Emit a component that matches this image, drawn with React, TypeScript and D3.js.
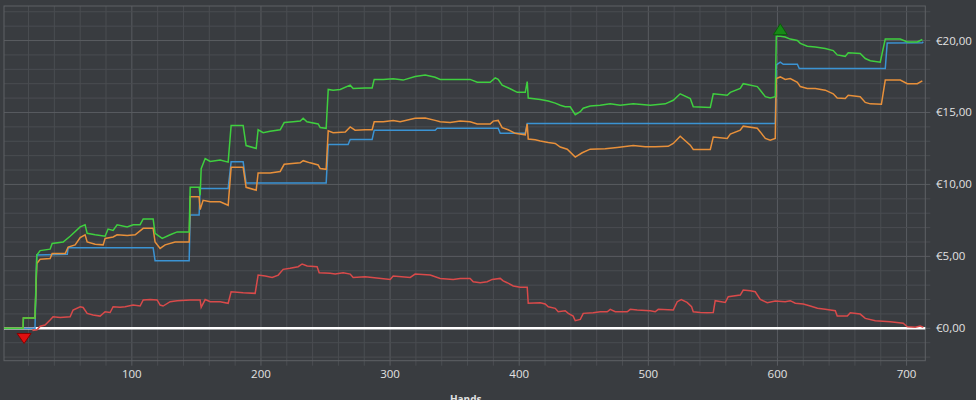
import React from "react";
import * as d3 from "d3";

// ---- data (hand, euro) ----
const greenSeries: [number, number][] = [[1,0],[15.8,0],[16,0.72],[25,0.72],[26.4,5.1],[29,5.4],[36.7,5.5],[38.3,5.9],[46.8,6.0],[52.2,6.4],[60,7.05],[63.8,7.2],[65.4,6.6],[71.6,6.5],[79.3,6.4],[81.6,6.9],[85.5,6.8],[88.6,7.2],[96.4,7.05],[101,7.2],[106.4,7.2],[108.8,7.6],[116.5,7.6],[118,6.6],[123.5,6.25],[129.7,6.5],[135.1,6.7],[144.4,6.7],[145.2,9.8],[152.1,9.8],[152.9,9.25],[153.7,11.1],[156.8,11.8],[160.7,11.6],[168.4,11.7],[174.6,11.55],[176.9,14.1],[186.2,14.1],[188.5,12.7],[196.3,12.5],[197.8,13.8],[201.7,13.6],[207.1,13.7],[214.9,13.8],[218,14.3],[224.9,14.35],[230.4,14.4],[232.7,14.6],[235.6,14.35],[244.3,14.2],[245.9,13.95],[250.5,13.9],[252.1,16.6],[255.9,16.55],[261.4,16.6],[269.1,16.9],[271.4,16.67],[280.7,16.7],[286.1,16.7],[287.7,17.3],[294.7,17.3],[302.4,17.35],[310.1,17.25],[319.4,17.5],[327.2,17.6],[334.9,17.45],[338.8,17.3],[350.4,17.3],[362,17.3],[367.5,17.1],[377.5,17.1],[381.4,17.4],[383.7,17.3],[386.8,16.9],[393,16.65],[398.5,16.4],[404.7,16.4],[406.2,17.15],[407,16.0],[416.3,15.9],[422.5,15.8],[427.9,15.65],[431.8,15.5],[435.6,15.4],[439.5,15.4],[443.4,14.85],[447.3,15.05],[449.6,15.3],[455,15.45],[462.7,15.5],[470.5,15.6],[478.2,15.5],[488.3,15.6],[501.5,15.5],[513.1,15.6],[519.3,15.85],[524.7,16.3],[532.5,15.97],[534.8,15.4],[548,15.35],[550.3,16.3],[561.1,16.2],[563.5,16.4],[571.2,16.67],[573.5,17.0],[584.4,16.8],[586.7,16.55],[590.6,16.1],[594.4,16.0],[598.3,16.1],[599.1,20.3],[602.2,20.3],[606,20.25],[609.9,20.1],[615.4,20.0],[617.7,19.8],[623.1,19.6],[629.3,19.55],[637,19.45],[643.2,19.3],[646.3,19.0],[652.5,18.9],[654.8,19.15],[664.1,19.1],[668,18.75],[671.9,18.6],[679.6,18.5],[683.5,20.1],[695.1,20.1],[700.6,19.9],[708.3,19.9],[712.2,20.07]];

const orangeSeries: [number, number][] = [[1,0],[15.8,0],[16,0.72],[25,0.72],[26.4,4.5],[29,4.8],[36.7,4.85],[38.3,5.2],[48.4,5.2],[50.7,5.65],[56.1,5.8],[60,6.3],[63.8,6.5],[65.4,6.0],[71.6,5.85],[77.8,5.8],[79.3,6.25],[85.5,6.35],[88.6,6.5],[96.4,6.45],[102.6,6.5],[108.8,6.95],[116.5,6.95],[118,6.0],[121.9,5.55],[125.8,5.8],[133.5,6.0],[144.4,6.0],[145.2,9.15],[152.1,9.15],[152.9,8.25],[155.2,8.9],[160.7,8.8],[168.4,8.8],[174.6,8.55],[176.9,11.2],[186.2,11.2],[188.5,9.8],[196.3,9.6],[197.8,10.8],[207.1,10.8],[214.9,10.9],[218,11.4],[230.4,11.5],[232.7,11.65],[238,11.5],[244.3,11.35],[245.9,11.1],[250.5,11.05],[252.1,13.72],[255.9,13.6],[265.3,13.65],[269.1,14.0],[272.9,13.77],[280.7,13.8],[286.1,13.8],[287.7,14.35],[294.7,14.35],[302.4,14.45],[307.8,14.35],[319.4,14.6],[327.2,14.62],[334.9,14.45],[338.8,14.35],[346.5,14.3],[354.3,14.4],[362,14.35],[367.5,14.2],[377.5,14.2],[379.9,14.4],[383.7,14.45],[386.8,13.95],[391.4,13.8],[396.9,13.55],[404.7,13.45],[406.2,14.2],[407,13.15],[412.4,13.1],[416.3,13.02],[422.5,12.92],[427.9,12.85],[431.8,12.6],[437.2,12.45],[443.4,11.9],[448.8,12.2],[455,12.45],[466.6,12.48],[475.9,12.57],[488.3,12.7],[497.6,12.62],[505.3,12.62],[515.4,12.65],[519.3,12.85],[524.7,13.35],[532.5,12.73],[534.8,12.43],[548,12.43],[550.3,13.3],[561.1,13.2],[563.5,13.5],[571.2,13.77],[573.5,14.05],[584.4,13.9],[586.7,13.65],[590.6,13.2],[594.4,13.07],[598.3,13.2],[599.1,17.36],[602.2,17.47],[606,17.3],[609.9,17.36],[615.4,17.1],[617.7,16.8],[623.1,16.67],[629.3,16.67],[637,16.55],[643.2,16.3],[646.3,16.0],[652.5,15.97],[654.8,16.2],[664.1,16.1],[668,15.7],[671.9,15.6],[680.5,15.57],[683.5,17.25],[695.1,17.25],[700.6,17.0],[708.3,17.0],[712.2,17.2]];

const blueSeries: [number, number][] = [[1,0],[25,0],[26.4,5.1],[50,5.15],[50.7,5.6],[116.5,5.6],[118,4.7],[144.4,4.7],[145.2,7.87],[152.1,7.87],[152.9,9.72],[174.6,9.72],[176.9,11.57],[186.2,11.57],[188.5,10.1],[250.5,10.1],[252.1,12.78],[267.5,12.78],[269.1,13.12],[286.1,13.12],[287.7,13.77],[334.9,13.77],[336.5,13.9],[383.7,13.9],[385.3,13.55],[404.7,13.55],[406.2,14.23],[598.3,14.23],[599.1,18.3],[602.2,18.5],[604.5,18.35],[615.4,18.35],[616.9,18.05],[683.5,18.05],[685,19.83],[712.2,19.85],[713,19.9]];

const redSeries: [number, number][] = [[1,0],[23.5,0],[23.6,-0.15],[26.6,-0.1],[29,0.15],[32.8,0.23],[36.7,0.58],[39,0.8],[44.5,0.76],[52.2,0.8],[54.5,1.27],[60,1.5],[62.3,1.45],[65.4,1.04],[70,0.92],[75.4,0.85],[79.3,1.15],[83.2,1.1],[85.5,1.5],[90.9,1.46],[94.8,1.5],[101,1.62],[106.4,1.55],[108.8,1.97],[114.2,2.0],[119.6,1.97],[121.9,1.62],[124.2,1.55],[129.7,1.85],[135.1,1.92],[145.2,1.97],[152.9,1.97],[153.7,1.46],[156.8,2.0],[160.7,1.85],[168.4,1.85],[174.6,1.74],[176.9,2.54],[186.2,2.47],[195.5,2.43],[197.8,3.7],[203.3,3.63],[208.7,3.54],[213.4,3.7],[217.2,4.1],[222.6,4.17],[228.8,4.28],[231.9,4.47],[235.8,4.33],[243.5,4.28],[245.1,3.86],[253.6,3.82],[257.5,3.77],[263.7,3.86],[269.1,3.77],[271.4,3.54],[280.7,3.58],[286.1,3.54],[300.1,3.4],[302.4,3.63],[315.6,3.54],[319.4,3.77],[331.1,3.7],[338.8,3.47],[348.9,3.4],[354.3,3.47],[362,3.47],[364.4,3.24],[369.8,3.17],[375.2,3.24],[379.1,3.4],[385.3,3.47],[387.6,3.3],[390.7,3.17],[395.4,2.94],[400.8,2.85],[406.2,2.85],[407,1.74],[416.3,1.78],[420.1,1.69],[422.5,1.5],[427.9,1.39],[430.2,1.15],[435.6,1.22],[438,1.04],[441.8,0.85],[443.4,0.53],[447.3,0.62],[449.6,1.04],[457.3,1.08],[462.7,1.15],[468.2,1.15],[470.5,1.32],[474.4,1.15],[483.7,1.15],[486,1.32],[491.4,1.27],[501.5,1.22],[505.3,1.15],[507.7,1.32],[519.3,1.27],[522.4,1.85],[525.5,2.0],[530,1.8],[533.5,1.5],[534.8,1.15],[540.2,1.1],[545.6,1.08],[550.3,1.1],[551.8,1.92],[559.6,1.8],[561.9,2.2],[571.2,2.31],[573.5,2.66],[578.9,2.61],[582.8,2.54],[586.7,2.01],[592.1,1.78],[598.3,1.9],[606,1.85],[609.9,1.92],[613.8,1.74],[620,1.69],[625.4,1.55],[631,1.39],[637,1.32],[644.8,1.22],[646.3,0.85],[654.1,0.85],[656.4,1.08],[664.1,0.99],[668,0.69],[675.8,0.53],[687.4,0.46],[697.4,0.35],[700.6,0.11],[706.7,0.07],[710.6,0.16],[713,0.07]];

const minPoint: [number, number] = [15.0, -0.15];
const maxPoint: [number, number] = [602.2, 20.3];

const xTickLabels = [100, 200, 300, 400, 500, 600, 700];
const yTickLabels = [0, 5, 10, 15, 20];
const xAxisTitle = "Hands";

// ---- layout ----
const W = 976, H = 400;
const L = 4, R = 925.3, T = 6, B = 360.7;

export default function App() {
  const x = d3.scaleLinear().domain([1, 714.5]).range([L, R]);
  const y = d3.scaleLinear().domain([-2.25, 22.4]).range([B, T]);
  const line = d3.line<[number, number]>().x(d => x(d[0])).y(d => y(d[1])).curve(d3.curveLinear);

  const minorX = d3.range(20, 715, 20);
  const minorY = d3.range(-2, 23, 1);
  const fmt = (v: number) => "€" + v.toFixed(2).replace(".", ",");

  const font = "'Open Sans', 'Noto Sans', sans-serif";

  const triDown = (cx: number, cy: number) => `M${cx - 7},${cy} L${cx + 7},${cy} L${cx},${cy + 10} Z`;
  const triUp = (cx: number, cy: number) => `M${cx - 7},${cy} L${cx + 7},${cy} L${cx},${cy - 11} Z`;

  return (
    <div style={{ position: "fixed", left: 0, top: 0 }}>
      <svg width={W} height={H} style={{ display: "block", background: "#393c40" }}>
        <rect x={0} y={0} width={W} height={H} fill="#393c40" />
        {/* minor grid */}
        {minorX.map(v => (
          <line key={"mx" + v} x1={x(v)} x2={x(v)} y1={T} y2={B + 5}
            stroke={v % 100 === 0 ? "#595c60" : "#4a4d51"} strokeWidth={1} />
        ))}
        {minorY.map(v => (
          <line key={"my" + v} x1={L} x2={R + 5} y1={y(v)} y2={y(v)}
            stroke={v % 5 === 0 ? "#595c60" : "#4a4d51"} strokeWidth={1} />
        ))}
        {/* border */}
        <rect x={L} y={T} width={R - L} height={B - T} fill="none" stroke="#5e6165" strokeWidth={1} />
        {/* zero line */}
        <line x1={L} x2={R} y1={y(0)} y2={y(0)} stroke="#ffffff" strokeWidth={2.5} />
        {/* series */}
        <path d={line(redSeries) || ""} fill="none" stroke="#d94a4a" strokeWidth={1.5} />
        <path d={line(blueSeries) || ""} fill="none" stroke="#3b93d3" strokeWidth={1.5} />
        <path d={line(orangeSeries) || ""} fill="none" stroke="#e8903a" strokeWidth={1.5} />
        <path d={line(greenSeries) || ""} fill="none" stroke="#3fcf3f" strokeWidth={1.5} />
        {/* markers */}
        <path d={triDown(x(minPoint[0]) + 2, y(minPoint[1]) + 3)} fill="#e01010" stroke="#8a0000" strokeWidth={1} />
        <path d={triUp(x(maxPoint[0]), y(maxPoint[1]) - 1.5)} fill="#168a16" stroke="#0c5a0c" strokeWidth={1} />
        {/* x labels */}
        {xTickLabels.map(v => (
          <text key={"xl" + v} x={x(v)} y={378} textAnchor="middle" fill="#e2e2e2"
            fontFamily={font} fontSize={11.5}>{v}</text>
        ))}
        {/* y labels */}
        {yTickLabels.map(v => (
          <text key={"yl" + v} x={936} y={y(v) + 4} textAnchor="start" fill="#e2e2e2"
            fontFamily={font} fontSize={11.5}>{fmt(v)}</text>
        ))}
        <text x={465.7} y={403} textAnchor="middle" fill="#e2e2e2" fontFamily={font}
          fontSize={10} fontWeight="bold">{xAxisTitle}</text>
      </svg>
    </div>
  );
}
